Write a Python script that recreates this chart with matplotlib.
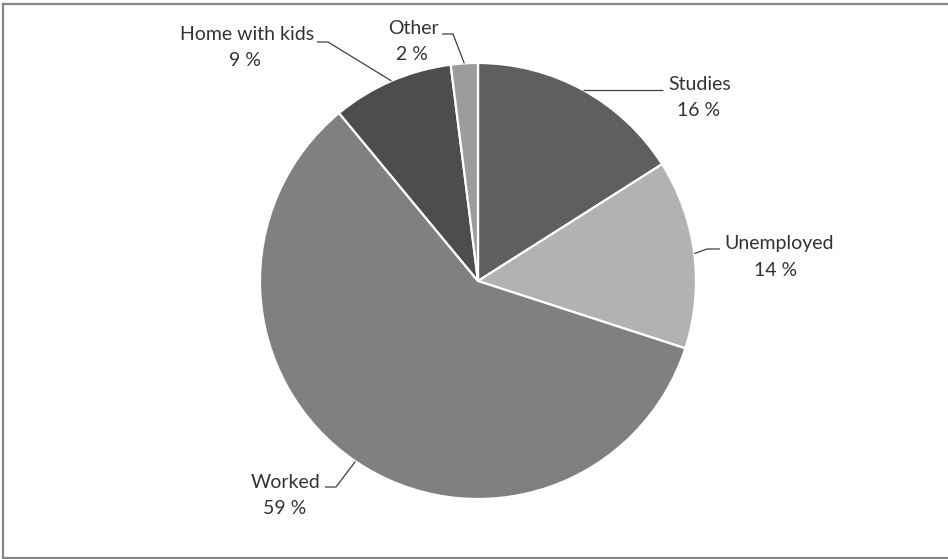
import matplotlib
matplotlib.use("Agg")
import matplotlib.pyplot as plt
import numpy as np

# ---- data ----
categories = ["Studies", "Unemployed", "Worked", "Home with kids", "Other"]
values = [16, 14, 59, 9, 2]
colors = ["#5f5f5f", "#b2b2b2", "#808080", "#4d4d4d", "#9c9c9c"]

# ---- layout (pixel positions of labels, y measured from top) ----
W, H = 948, 559
CX, CY, R = 478, 281, 218
label_layout = {
    # name-center, pct-center, elbow, line-end
    "Studies":        ((700, 85), (699, 110), None, (663, None)),
    "Unemployed":     ((779, 243), (776, 271), (707, 249), (720, 249)),
    "Worked":         ((286, 482), (285, 508), (336, 487), (325, 487)),
    "Home with kids": ((247, 35), (245, 60), (328, 42), (317, 42)),
    "Other":          ((413, 28), (412, 55), (453, 34), (442, 34)),
}

fig = plt.figure(figsize=(W / 100, H / 100), dpi=100)
ax = fig.add_axes([0, 0, 1, 1])

def fy(py):
    return H - py

wedges, _ = ax.pie(values, colors=colors, startangle=90, counterclock=False,
                   center=(CX, fy(CY)), radius=R,
                   wedgeprops=dict(edgecolor="white", linewidth=1.6))
ax.set_xlim(0, W)
ax.set_ylim(0, H)
ax.set_aspect("auto")
ax.axis("off")

txt_kw = dict(fontsize=14, color="#333333", ha="center", va="center",
              family=["Lato", "DejaVu Sans"])
line_kw = dict(color="#404040", lw=0.9, solid_capstyle="butt")

for w, cat, v in zip(wedges, categories, values):
    mid = np.deg2rad((w.theta1 + w.theta2) / 2)
    ax0 = CX + R * np.cos(mid)
    ay0 = fy(CY) + R * np.sin(mid)
    name_c, pct_c, elbow, end = label_layout[cat]
    pts = [(ax0, ay0)]
    if elbow is not None:
        pts.append((elbow[0], fy(elbow[1])))
    ex = end[0]
    ey = ay0 if end[1] is None else fy(end[1])
    pts.append((ex, ey))
    xs, ys = zip(*pts)
    ax.plot(xs, ys, **line_kw)
    ax.text(name_c[0], fy(name_c[1]), cat, **txt_kw)
    ax.text(pct_c[0], fy(pct_c[1]), f"{v} %", **txt_kw)

# outer border (top, left, bottom)
bc = "#868686"
fig.add_artist(plt.Line2D([2.5 / W, 1], [1 - 3.5 / H, 1 - 3.5 / H], color=bc, lw=1.6, transform=fig.transFigure))
fig.add_artist(plt.Line2D([2.5 / W, 2.5 / W], [1 - 3.5 / H, 1 - 557.5 / H], color=bc, lw=1.6, transform=fig.transFigure))
fig.add_artist(plt.Line2D([2.5 / W, 1], [1 - 557.5 / H, 1 - 557.5 / H], color=bc, lw=1.6, transform=fig.transFigure))

fig.savefig("out.png", dpi=100, facecolor="white")
